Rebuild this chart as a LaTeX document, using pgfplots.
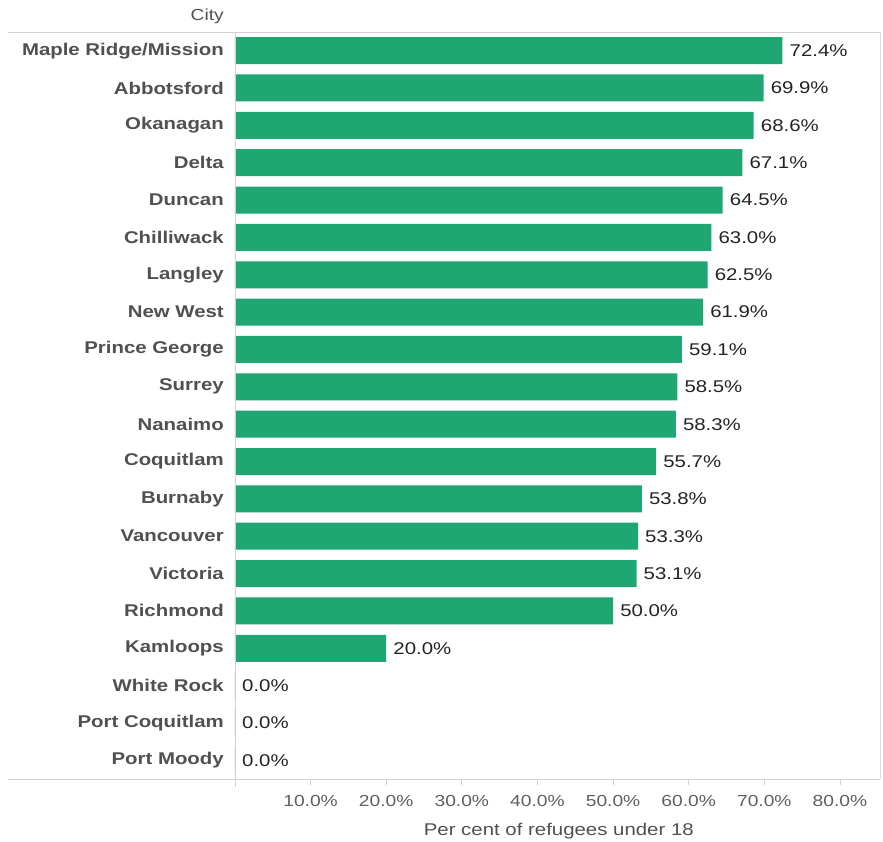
\documentclass[border=0pt]{standalone}
\usepackage{fontspec}
\setmainfont{Liberation Sans}[FakeStretch=1.2]
\usepackage{pgfplots}
\pgfplotsset{compat=1.18}
\definecolor{barg}{RGB}{31,166,114}
\definecolor{lab}{RGB}{80,80,80}
\definecolor{val}{RGB}{35,35,35}
\definecolor{tck}{RGB}{95,95,95}
\definecolor{rule}{RGB}{210,210,210}
\newcommand{\fs}[1]{\fontsize{#1bp}{#1bp}\selectfont}
\begin{document}
\begin{tikzpicture}
\begin{axis}[
  scale only axis, width=645bp, height=747bp,
  xmin=0, xmax=85.3, ymin=-0.5, ymax=19.5, y dir=reverse,
  axis line style={draw=none},
  clip=false,
  /pgf/number format/assume math mode=true,
  xtick={10,20,...,80},
  xtick pos=bottom, ytick pos=left,
  tick align=outside, major tick length=6bp,
  xtick style={draw=rule, line width=0.8bp},
  ytick style={draw=none},
  xticklabel={\pgfmathprintnumber[fixed,fixed zerofill,precision=1]{\tick}\%},
  xticklabel style={font=\fs{16}, text=tck, inner sep=0pt, yshift=-10bp},
  ytick={0,1,...,19},
  yticklabels={Maple Ridge/Mission, Abbotsford, Okanagan, Delta, Duncan, Chilliwack, Langley, New West, Prince George, Surrey, Nanaimo, Coquitlam, Burnaby, Vancouver, Victoria, Richmond, Kamloops, White Rock, Port Coquitlam, Port Moody},
  yticklabel style={font=\bfseries\fs{17}, text=lab, anchor=east, inner sep=0pt, xshift=-5bp},
  xbar, bar width=0.723,
  nodes near coords={\pgfmathprintnumber[fixed,fixed zerofill,precision=1]{\pgfplotspointmeta}\%},
  point meta=x,
  nodes near coords style={anchor=west, font=\fs{17}, text=val, inner sep=0pt, xshift=7bp},
]
\addplot[fill=barg, draw=none] coordinates {
  (72.4,0) (69.9,1) (68.6,2) (67.1,3) (64.5,4) (63.0,5) (62.5,6) (61.9,7)
  (59.1,8) (58.5,9) (58.3,10) (55.7,11) (53.8,12) (53.3,13) (53.1,14)
  (50.0,15) (20.0,16) (0.0,17) (0.0,18) (0.0,19)
};
\draw[rule, line width=0.8bp] (rel axis cs:-0.352,1) -- (rel axis cs:1,1);
\draw[rule, line width=0.8bp] (rel axis cs:-0.352,0) -- (rel axis cs:1,0);
\draw[rule, line width=0.8bp] (rel axis cs:0,1) -- (rel axis cs:0,-0.0107);
\draw[rule!70!white, line width=0.8bp] (rel axis cs:1,1) -- (rel axis cs:1,0);
\node[anchor=east, font=\fs{16}, text=lab, inner sep=0pt] at (rel axis cs:-0.017,1.0214) {City};
\node[font=\fs{17}, text=lab, inner sep=0pt] at (rel axis cs:0.502,-0.0696) {Per cent of refugees under 18};
\coordinate (bbl) at (rel axis cs:-0.3643,-0.0843);
\coordinate (btr) at (rel axis cs:1.00465,1.0428);
\end{axis}
\pgfresetboundingbox
\path (bbl) rectangle (btr);
\end{tikzpicture}
\end{document}
